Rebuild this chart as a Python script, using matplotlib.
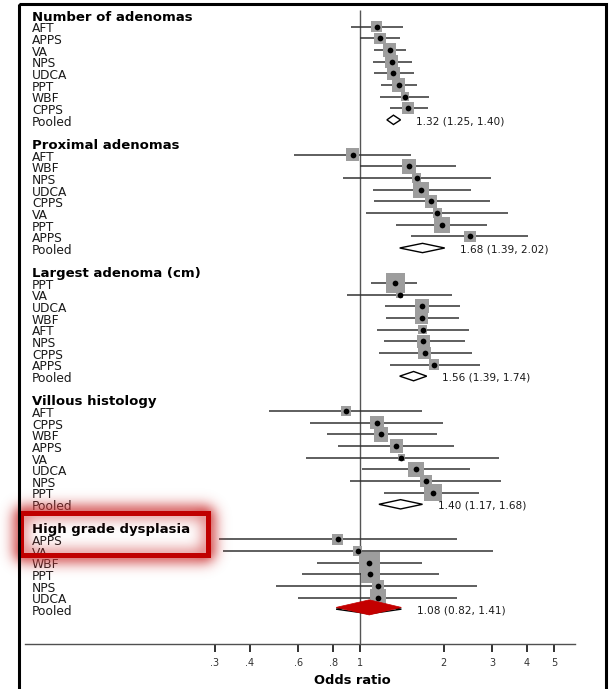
import numpy as np
import matplotlib.pyplot as plt
from matplotlib.patches import Rectangle

plt.rcParams['font.family'] = ['DejaVu Sans']

# odds ratios with 95% CI and relative weight, by outcome
num_names = ['AFT', 'APPS', 'VA', 'NPS', 'UDCA', 'PPT', 'WBF', 'CPPS']
num_or = [1.15, 1.18, 1.28, 1.30, 1.32, 1.38, 1.45, 1.49]
num_lo = [0.93, 1.00, 1.12, 1.11, 1.12, 1.19, 1.18, 1.28]
num_hi = [1.43, 1.39, 1.47, 1.54, 1.56, 1.60, 1.78, 1.76]
num_wt = [6.9, 6.9, 9.6, 9.6, 9.6, 9.6, 3.6, 8.2]
num_pooled = (1.32, 1.25, 1.40)

prox_names = ['AFT', 'WBF', 'NPS', 'UDCA', 'CPPS', 'VA', 'PPT', 'APPS']
prox_or = [0.94, 1.50, 1.60, 1.66, 1.80, 1.90, 1.97, 2.49]
prox_lo = [0.58, 1.00, 0.87, 1.11, 1.12, 1.05, 1.35, 1.53]
prox_hi = [1.53, 2.22, 2.96, 2.51, 2.93, 3.42, 2.86, 4.04]
prox_wt = [9.6, 11.1, 4.6, 14.5, 8.2, 4.6, 14.5, 6.9]
prox_pooled = (1.68, 1.39, 2.02)

size_names = ['PPT', 'VA', 'UDCA', 'WBF', 'AFT', 'NPS', 'CPPS', 'APPS']
size_or = [1.34, 1.39, 1.67, 1.67, 1.68, 1.69, 1.71, 1.85]
size_lo = [1.10, 0.90, 1.23, 1.24, 1.15, 1.22, 1.17, 1.28]
size_hi = [1.61, 2.15, 2.29, 2.28, 2.48, 2.39, 2.53, 2.71]
size_wt = [20.5, 2.8, 11.1, 9.1, 4.6, 9.6, 8.2, 5.7]
size_pooled = (1.56, 1.39, 1.74)

vill_names = ['AFT', 'CPPS', 'WBF', 'APPS', 'VA', 'UDCA', 'NPS', 'PPT']
vill_or = [0.89, 1.15, 1.19, 1.35, 1.41, 1.59, 1.73, 1.83]
vill_lo = [0.47, 0.66, 0.76, 0.83, 0.64, 1.02, 0.92, 1.22]
vill_hi = [1.67, 1.99, 1.89, 2.18, 3.16, 2.49, 3.22, 2.68]
vill_wt = [5.7, 9.6, 11.1, 9.6, 2.8, 12.8, 6.9, 16.4]
vill_pooled = (1.40, 1.17, 1.68)

hgd_names = ['APPS', 'VA', 'WBF', 'PPT', 'NPS', 'UDCA']
hgd_or = [0.83, 0.98, 1.08, 1.09, 1.16, 1.16]
hgd_lo = [0.31, 0.32, 0.70, 0.62, 0.50, 0.60]
hgd_hi = [2.23, 3.01, 1.67, 1.92, 2.63, 2.23]
hgd_wt = [6.9, 4.6, 25.0, 18.4, 8.2, 14.5]
hgd_pooled = (1.08, 0.82, 1.41)

sections = [
    ('Number of adenomas', num_names, num_or, num_lo, num_hi, num_wt, num_pooled),
    ('Proximal adenomas', prox_names, prox_or, prox_lo, prox_hi, prox_wt, prox_pooled),
    ('Largest adenoma (cm)', size_names, size_or, size_lo, size_hi, size_wt, size_pooled),
    ('Villous histology', vill_names, vill_or, vill_lo, vill_hi, vill_wt, vill_pooled),
    ('High grade dysplasia', hgd_names, hgd_or, hgd_lo, hgd_hi, hgd_wt, hgd_pooled),
]
highlight = 4

tick_vals = [.3, .4, .6, .8, 1, 2, 3, 4, 5]
tick_labels = ['.3', '.4', '.6', '.8', '1', '2', '3', '4', '5']

W, H = 615, 689
pitch = 11.65      # px per row
top_px = 15        # first heading
block = 11         # rows per outcome block
px_per_log = 120.5
one_px = 360       # x pixel of OR = 1
left_px, right_px = 25, 574.5

last_row = (len(sections) - 1) * block + 1 + len(sections[-1][1])
axis_row = last_row + 3
axis_px = top_px + axis_row * pitch

fig = plt.figure(figsize=(W / 100, H / 100), dpi=100)
ax = fig.add_axes([left_px / W, 1 - axis_px / H, (right_px - left_px) / W, axis_px / H])
ax.set_xscale('log')
ax.set_xlim(np.exp(-(one_px - left_px) / px_per_log), np.exp((right_px - one_px) / px_per_log))
ax.set_ylim(axis_row, -top_px / pitch)
ax.patch.set_alpha(0)

lab = ax.get_yaxis_transform()
lab_x = (32 - left_px) / (right_px - left_px)
txt_col = '#1a1a1a'
dh = 0.2

ax.vlines(1, -5 / pitch, axis_row, color='#555555', lw=1.0, zorder=1)

for s, (title, names, est, lo, hi, wt, pooled) in enumerate(sections):
    top = s * block
    ax.text(lab_x, top + dh, title, transform=lab, fontsize=9.5, fontweight='bold',
            va='center', ha='left', color='black')
    rows = top + 1 + np.arange(len(names))
    for r, n in zip(rows, names):
        ax.text(lab_x, r + dh, n, transform=lab, fontsize=8.8, va='center', ha='left', color=txt_col)
    ax.hlines(rows, lo, hi, color='#333333', lw=1.1, zorder=2)
    side = 4.3 * np.sqrt(np.array(wt)) * 0.72
    ax.scatter(est, rows, marker='s', s=side ** 2, color='#9d9d9d', lw=0, zorder=3)
    ax.scatter(est, rows, marker='o', s=17, color='black', lw=0, zorder=4)

    pr = top + 1 + len(names)
    p, plo, phi = pooled
    ax.text(lab_x, pr + dh, 'Pooled', transform=lab, fontsize=8.8, va='center', ha='left', color=txt_col)
    ax.fill([plo, p, phi, p], [pr, pr - 0.4, pr, pr + 0.4], facecolor='white',
            edgecolor='black', lw=1.0, zorder=3)
    if s == highlight:
        ax.fill([plo, p, phi, p], [pr - 0.15, pr - 0.8, pr - 0.15, pr + 0.5],
                facecolor='#c40000', edgecolor='#c40000', lw=0.5, zorder=4)
    ax.annotate(f'{p:.2f} ({plo:.2f}, {phi:.2f})', xy=(phi, pr + 0.1), xytext=(11, 0),
                textcoords='offset points', fontsize=7.6, va='center', ha='left', color=txt_col)

for side_name in ['top', 'left', 'right']:
    ax.spines[side_name].set_visible(False)
ax.spines['bottom'].set_color('#505050')
ax.spines['bottom'].set_linewidth(1.0)
ax.set_yticks([])
ax.set_xticks(tick_vals)
ax.set_xticklabels(tick_labels)
ax.minorticks_off()
ax.tick_params(axis='x', length=6, width=1.3, color='#222222', pad=4, labelsize=7,
               labelcolor='#333333')
ax.set_xlabel('Odds ratio', fontsize=9.4, fontweight='bold')
ax.xaxis.set_label_coords((352.5 - left_px) / (right_px - left_px), -(681 - axis_px) / axis_px)
ax.xaxis.label.set_va('center')

# overlay in pixel units: frame and the red highlight with its glow
ov = fig.add_axes([0, 0, 1, 1])
ov.set_zorder(5)
ov.axis('off')

x0, x1, y0, y1 = 18, 210, 510, 557
yy, xx = np.mgrid[0:H, 0:W]
outer = (xx >= x0) & (xx <= x1) & (yy >= y0) & (yy <= y1)
inner = (xx >= x0 + 5) & (xx <= x1 - 5) & (yy >= y0 + 5) & (yy <= y1 - 5)
ring = (outer & ~inner).astype(float)
k = np.exp(-0.5 * (np.arange(-30, 31) / 7.5) ** 2)
k /= k.sum()
glow = np.apply_along_axis(lambda m: np.convolve(m, k, mode='same'), 0, ring)
glow = np.apply_along_axis(lambda m: np.convolve(m, k, mode='same'), 1, glow)
alpha = np.clip(glow * 2.6, 0, 0.8)
alpha[inner] *= 0.6
rgba = np.zeros((H, W, 4))
rgba[..., 0] = 0.80
rgba[..., 1] = 0.20
rgba[..., 2] = 0.20
rgba[..., 3] = alpha
ov.imshow(rgba, extent=(0, W, H, 0), aspect='auto', interpolation='bilinear')
ov.add_patch(Rectangle((x0 + 2.5, y0 + 2.5), x1 - x0 - 5, y1 - y0 - 5, fill=False,
                       edgecolor='#c00000', lw=3.6))
ov.add_patch(Rectangle((19, 3.5), 586.5, H + 20, fill=False, edgecolor='black', lw=2.2,
                       clip_on=False))
ov.set_xlim(0, W)
ov.set_ylim(H, 0)

fig.savefig('out.png', dpi=100)
